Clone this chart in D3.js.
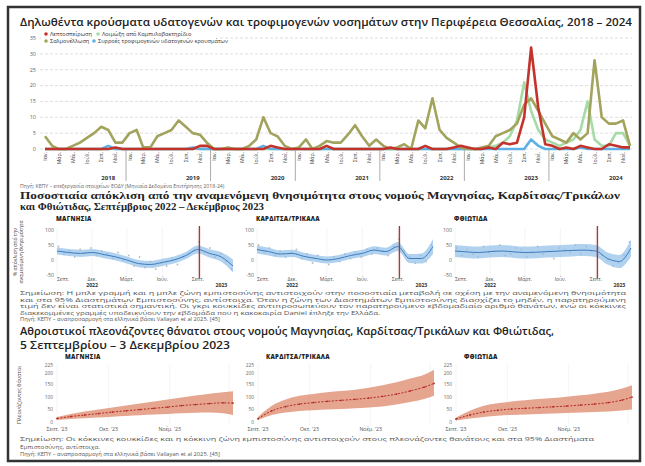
<!DOCTYPE html>
<html>
<head>
<meta charset="utf-8">
<script src="https://cdn.jsdelivr.net/npm/d3@7"></script>
<style>
  body { margin: 0; background: #fff; }
  svg text { font-family: "Open Sans", "Noto Sans", sans-serif; }
</style>
</head>
<body>
<div id="chart"></div>
<script>
// ---- data: monthly reported cases, Jan 2018 - Dec 2024 ----
const years = [2018, 2019, 2020, 2021, 2022, 2023, 2024];
const monthLabels = ["Ιαν.", "Μάρ.", "Μάι.", "Ιούλ.", "Σεπ.", "Νοέ."];

const salmonella = [
  4, 1, 0, 0, 1, 2, 3.5, 5, 7, 6, 2, 2,
  5, 6, 0.5, 0.5, 4, 5, 6, 9, 7, 5, 4.5, 2,
  0, 0, 0.5, 0, 0, 1, 3, 10, 5, 4, 1, 0,
  0.5, 3, 0, 1, 2.5, 2, 2, 4.5, 7.5, 4, 1, 3,
  1, 0, 0.5, 1.5, 0, 9, 6.5, 16, 6, 3.5, 2, 0.5,
  0, 0, 0.5, 1, 4, 5, 6, 8, 14, 16, 12, 8,
  4, 3, 2, 5, 3, 5, 28, 10, 8, 8, 9, 1
];
const campylobacter = [
  0, 0, 0, 0, 0, 0, 0, 0, 0, 0, 0, 0,
  0, 0, 0, 0, 0, 0, 0, 0, 0, 0, 0, 0,
  0, 0, 0, 0, 0, 0, 0, 0, 0, 0, 0, 0,
  0, 0, 0, 0, 0, 0, 0, 0, 0, 0, 0, 0,
  0, 0, 0, 0, 0, 0, 0, 0, 0, 0, 0, 0,
  0, 0, 0, 0.5, 1, 2, 4, 9, 21, 12, 6, 3,
  2, 1, 2, 3, 6, 15, 3, 1, 1, 5, 5, 1
];
const leptospirosis = [
  0, 0, 0, 0, 0, 0, 0, 0, 0, 0, 0.5, 0,
  0, 0, 0, 0, 0, 0, 0, 0, 0, 0, 1, 1,
  0, 0, 0, 0, 0, 0, 0, 0, 1, 0.5, 0, 0,
  0, 0, 0, 0, 1, 0, 0, 0, 0, 0, 0, 0,
  0, 0.5, 0, 0, 0, 0, 1, 0, 0, 0, 0.5, 1,
  0.5, 0, 0, 0.5, 0, 2, 1.5, 2, 10, 32, 13, 1.5,
  1, 0, 0.5, 0, 1, 0.5, 0, 0, 1.5, 1, 0.5, 0.5
];
const outbreaks = [
  0, 0, 0, 0, 0, 0, 0, 0, 0, 1, 0, 0,
  0, 0, 0, 0, 0, 0, 0, 0, 0, 0.5, 0, 0,
  0, 0, 0, 0, 0, 0, 0, 1, 0, 0, 0, 0,
  0, 0, 0, 0, 0, 0, 0, 0, 0, 0, 0, 0,
  0, 0, 0, 0, 0, 0, 0, 0, 0, 0, 0, 0,
  0, 0, 0, 0, 0, 0, 0, 0, 0, 3, 1, 0,
  0, 0, 0, 0, 0.5, 0, 0, 0, 0, 0, 0, 0
];

// ---- data: % deviation from expected mortality, monthly, Sep 2022 - Dec 2023 ----
const regions = ["ΜΑΓΝΗΣΙΑ", "ΚΑΡΔΙΤΣΑ/ΤΡΙΚΑΛΑ", "ΦΘΙΩΤΙΔΑ"];
const devMid = [
  [30, 25, 22, 25, 18, 10, 0, -12, -15, -8, 0, 15, 35, 22, 10, -20],
  [35, 28, 20, 22, 12, 5, 0, 5, 15, 22, 33, 28, 45, 5, 5, 45],
  [30, 27, 25, 28, 30, 27, 25, 26, 28, 30, 32, 33, 30, 5, -5, 40]
];
const devLow = [
  [18, 13, 10, 13, 6, -2, -12, -24, -27, -20, -12, 3, 22, 8, -6, -42],
  [22, 15, 8, 10, 0, -7, -12, -7, 3, 10, 20, 15, 30, -10, -12, 20],
  [10, 7, 5, 8, 10, 7, 5, 6, 8, 10, 12, 13, 10, -15, -27, 12]
];
const devHigh = [
  [42, 37, 34, 37, 30, 22, 12, 0, -3, 4, 12, 27, 48, 36, 26, 2],
  [48, 41, 32, 34, 24, 17, 12, 17, 27, 34, 46, 41, 60, 20, 22, 70],
  [50, 47, 45, 48, 50, 47, 45, 46, 48, 50, 52, 53, 50, 25, 17, 68]
];
// observed weekly deaths as % deviation, every second week from 5 Sep 2022
const devDots = [
  [45, 20, 30, 10, 35, 25, 40, 15, 30, 20, 5, 25, 0, 15, -20, 10, -25, -5, -30, -10, -20, 5, -15, 10, 20, 30, 60, 25, 40, 10, 20, -5, -30],
  [50, 25, 40, 15, 30, 10, 25, 35, 5, 20, -10, 15, 0, -15, 10, -5, 20, 5, 25, 10, 35, 20, 40, 30, 15, 45, 70, 30, 10, -10, 15, -5, 50],
  [40, 15, 35, 20, 10, 45, 25, 30, 50, 15, 20, 40, 35, 10, 25, 45, 20, 30, 5, 40, 35, 25, 50, 20, 45, 30, 40, 15, 0, -20, -10, 15, 60]
];

// ---- data: cumulative excess deaths, weekly from 5 Sep 2023 ----
const excMid = [
  [14, 22, 28, 34, 40, 45, 50, 55, 60, 66, 70, 74, 77, 76],
  [13, 45, 62, 72, 78, 83, 87, 91, 96, 103, 112, 125, 140, 155],
  [12, 28, 40, 47, 52, 55, 58, 61, 64, 68, 72, 78, 88, 100]
];
const excLow = [
  [8, 12, 15, 18, 21, 24, 27, 30, 32, 35, 37, 38, 35, 28],
  [8, 28, 38, 44, 47, 50, 52, 55, 58, 62, 70, 80, 92, 105],
  [6, 14, 20, 25, 28, 30, 32, 34, 36, 38, 40, 42, 46, 50]
];
const excHigh = [
  [20, 32, 42, 50, 58, 66, 74, 82, 90, 98, 106, 114, 120, 124],
  [20, 65, 90, 105, 113, 120, 125, 130, 138, 148, 160, 175, 190, 210],
  [18, 45, 65, 75, 82, 87, 92, 96, 101, 107, 114, 122, 135, 148]
];

const W = 645, H = 466;
const svg = d3.select("#chart").append("svg")
  .attr("width", W).attr("height", H);

// outer frame
svg.append("rect")
  .attr("x", 8).attr("y", 7).attr("width", 632).attr("height", 454)
  .attr("fill", "none").attr("stroke", "#333").attr("stroke-width", 2.5);

/* ================= top chart ================= */
svg.append("text")
  .attr("x", 20).attr("y", 26)
  .attr("font-size", 11).attr("font-weight", 600).attr("fill", "#222")
  .attr("textLength", 612).attr("lengthAdjust", "spacingAndGlyphs")
  .text("Δηλωθέντα κρούσματα υδατογενών και τροφιμογενών νοσημάτων στην Περιφέρεια Θεσσαλίας, 2018 – 2024");

const monthDates = d3.timeMonth.range(new Date(2018, 0, 1), new Date(2025, 0, 1));
const xTop = d3.scaleTime()
  .domain([new Date(2018, 0, 1), new Date(2024, 11, 1)])
  .range([45, 630]);
const yTop = d3.scaleLinear().domain([0, 35]).range([149, 38]);

const topG = svg.append("g");
const yTicks = yTop.ticks(7);
topG.selectAll("line.grid").data(yTicks).join("line")
  .attr("class", "grid")
  .attr("x1", 40).attr("x2", 632)
  .attr("y1", d => yTop(d)).attr("y2", d => yTop(d))
  .attr("stroke", "#c8c8c8").attr("stroke-width", 0.6)
  .attr("stroke-dasharray", "3,2");
topG.selectAll("text.ytick").data(yTicks).join("text")
  .attr("class", "ytick")
  .attr("x", 36).attr("y", d => yTop(d)).attr("dy", "0.35em")
  .attr("text-anchor", "end").attr("font-size", 5.5).attr("fill", "#666")
  .text(d => d);

// month labels
const monthTicks = [];
years.forEach(yr => [0, 2, 4, 6, 8, 10].forEach((m, i) =>
  monthTicks.push({date: new Date(yr, m, 1), label: monthLabels[i]})));
topG.selectAll("text.mtick").data(monthTicks).join("text")
  .attr("class", "mtick")
  .attr("transform", d => "translate(" + (xTop(d.date) + 2) + ",152) rotate(-90)")
  .attr("text-anchor", "end").attr("font-size", 5.2).attr("fill", "#444")
  .text(d => d.label);

// year separators and labels
topG.selectAll("line.ysep").data(years.slice(1)).join("line")
  .attr("class", "ysep")
  .attr("x1", d => xTop(new Date(d, 0, 1)) - 3.5).attr("x2", d => xTop(new Date(d, 0, 1)) - 3.5)
  .attr("y1", 150).attr("y2", 181)
  .attr("stroke", "#888").attr("stroke-width", 0.7);
topG.selectAll("text.year").data(years).join("text")
  .attr("class", "year")
  .attr("x", d => xTop(new Date(d, 9, 1))).attr("y", 180)
  .attr("text-anchor", "middle").attr("font-size", 6).attr("font-weight", 700).attr("fill", "#333")
  .text(d => d);

const series = [
  {name: "Λοιμώξη από Καμπυλοβακτηρίδιο", values: campylobacter, color: "#a6dba8"},
  {name: "Συρροές τροφιμογενών υδατογενών κρουσμάτων", values: outbreaks, color: "#5fb0e4"},
  {name: "Σαλμονέλλωση", values: salmonella, color: "#a2a35c"},
  {name: "Λεπτοσπείρωση", values: leptospirosis, color: "#c3332c"}
];
const lineTop = d3.line()
  .x((d, i) => xTop(monthDates[i]))
  .y(d => yTop(d));
topG.selectAll("path.series").data(series).join("path")
  .attr("class", "series")
  .attr("d", d => lineTop(d.values))
  .attr("fill", "none").attr("stroke", d => d.color)
  .attr("stroke-width", 2.6).attr("stroke-linejoin", "round");

// legend (white box hides the grid behind it)
topG.append("rect").attr("x", 41).attr("y", 30).attr("width", 178).attr("height", 15)
  .attr("fill", "#fff");
const legendItems = [
  {s: series[3], x: 46, y: 34}, {s: series[0], x: 98, y: 34},
  {s: series[2], x: 46, y: 41}, {s: series[1], x: 94, y: 41}
];
const leg = topG.selectAll("g.leg").data(legendItems).join("g")
  .attr("class", "leg")
  .attr("transform", d => "translate(" + d.x + "," + d.y + ")");
leg.append("circle").attr("r", 1.8).attr("fill", d => d.s.color);
leg.append("text").attr("x", 4).attr("dy", "0.35em")
  .attr("font-size", 5.6).attr("fill", "#333")
  .text(d => d.s.name);

svg.append("text")
  .attr("x", 20).attr("y", 188).attr("font-size", 5.2).attr("fill", "#666")
  .text("Πηγή: ΚΕΠΥ – επεξεργασία στοιχείων ΕΟΔΥ (Μηνιαία Δεδομένα Επιτήρησης 2018-24)");

/* ================= middle: % deviation ================= */
const midTitle = svg.append("text")
  .style("font-family", "'Liberation Serif', 'DejaVu Serif', serif")
  .attr("font-size", 10.5).attr("font-weight", 700).attr("fill", "#222");
midTitle.append("tspan").attr("x", 20).attr("y", 199)
  .attr("textLength", 600).attr("lengthAdjust", "spacingAndGlyphs")
  .text("Ποσοστιαία απόκλιση από την αναμενόμενη θνησιμότητα στους νομούς Μαγνησίας, Καρδίτσας/Τρικάλων");
midTitle.append("tspan").attr("x", 20).attr("y", 210)
  .attr("textLength", 244).attr("lengthAdjust", "spacingAndGlyphs")
  .text("και Φθιώτιδας, Σεπτέμβριος 2022 – Δεκέμβριος 2023");

const panelX = [57, 257, 455], panelW = 176;
const devMonths = d3.timeMonth.range(new Date(2022, 8, 1), new Date(2024, 0, 1));
const dotDates = devDots[0].map((d, i) => d3.timeDay.offset(new Date(2022, 8, 5), 14 * i));
const yMid = d3.scaleLinear().domain([-50, 100]).range([275, 230]);
const daniel = new Date(2023, 8, 5);

regions.forEach((name, p) => {
  const g = svg.append("g");
  const x = d3.scaleTime()
    .domain([new Date(2022, 8, 1), new Date(2023, 11, 1)])
    .range([panelX[p], panelX[p] + panelW]);

  g.append("text").attr("x", panelX[p] - 1).attr("y", 221)
    .attr("font-size", 6).attr("font-weight", 800).attr("fill", "#222")
    .attr("letter-spacing", 0.3).text(name);

  const tickDates = [new Date(2022, 8, 1), new Date(2022, 11, 1), new Date(2023, 2, 1), new Date(2023, 5, 1), new Date(2023, 8, 1)];
  const tickNames = ["Σεπτ.", "Δεκ.", "Μάρτ.", "Ιούν.", "Σεπτ."];
  g.selectAll("line.vg").data(tickDates).join("line")
    .attr("class", "vg")
    .attr("x1", d => x(d)).attr("x2", d => x(d)).attr("y1", 228).attr("y2", 277)
    .attr("stroke", "#eee").attr("stroke-width", 0.6);
  g.selectAll("text.yt").data([-50, 0, 50, 100]).join("text")
    .attr("class", "yt")
    .attr("x", panelX[p] - 3).attr("y", d => yMid(d)).attr("dy", "0.35em")
    .attr("text-anchor", "end").attr("font-size", 5.2).attr("fill", "#666")
    .text(d => d);
  g.selectAll("text.xt").data(tickDates).join("text")
    .attr("class", "xt")
    .attr("x", (d, i) => x(d) + (i === 0 ? 6 : 0)).attr("y", 280.5)
    .attr("text-anchor", "middle").attr("font-size", 5).attr("fill", "#555")
    .text((d, i) => tickNames[i]);
  g.append("text").attr("x", x(new Date(2022, 11, 1))).attr("y", 287)
    .attr("text-anchor", "middle").attr("font-size", 5.2).attr("font-weight", 700).attr("fill", "#333")
    .text("2022");
  g.append("text").attr("x", x(new Date(2023, 10, 1))).attr("y", 287)
    .attr("text-anchor", "middle").attr("font-size", 5.2).attr("font-weight", 700).attr("fill", "#333")
    .text("2023");

  g.selectAll("circle.dot").data(devDots[p]).join("circle")
    .attr("class", "dot")
    .attr("cx", (d, i) => x(dotDates[i])).attr("cy", d => yMid(d))
    .attr("r", 0.9).attr("fill", "#bbb");

  const area = d3.area().curve(d3.curveMonotoneX)
    .x((d, i) => x(devMonths[i]))
    .y0((d, i) => yMid(devLow[p][i]))
    .y1((d, i) => yMid(devHigh[p][i]));
  g.append("path").attr("d", area(devMid[p]))
    .attr("fill", "#8fbfe8").attr("fill-opacity", 0.7);
  const line = d3.line().curve(d3.curveMonotoneX)
    .x((d, i) => x(devMonths[i])).y(d => yMid(d));
  g.append("path").attr("d", line(devMid[p]))
    .attr("fill", "none").attr("stroke", "#3c7cc0").attr("stroke-width", 1);

  g.append("line")
    .attr("x1", x(daniel)).attr("x2", x(daniel)).attr("y1", 226).attr("y2", 278)
    .attr("stroke", "#a83a3a").attr("stroke-width", 1.4);
});

svg.append("text")
  .attr("transform", "translate(17,252) rotate(-90)")
  .attr("text-anchor", "middle").attr("font-size", 5).attr("fill", "#444")
  .selectAll("tspan").data(["% απόκλιση από την", "αναμενόμενη θνησιμότητα"]).join("tspan")
  .attr("x", 0).attr("dy", (d, i) => i ? 6 : 0).text(d => d);

const midNotes = [
  ["Σημείωση: Η μπλε γραμμή και η μπλε ζώνη εμπιστοσύνης αντιστοιχούν στην ποσοστιαία μεταβολή σε σχέση με την αναμενόμενη θνησιμότητα", 606],
  ["και στα 95% Διαστημάτων Εμπιστοσύνης, αντίστοιχα. Όταν η ζώνη των Διαστημάτων Εμπιστοσύνης διασχίζει το μηδέν, η παρατηρούμενη", 606],
  ["τιμή δεν είναι στατιστικά σημαντική. Οι γκρι κουκκίδες αντιπροσωπεύουν τον παρατηρούμενο εβδομαδιαίο αριθμό θανάτων, ενώ οι κόκκινες", 606],
  ["διακεκομμένες γραμμές υποδεικνύουν την εβδομάδα που η κακοκαιρία Daniel έπληξε την Ελλάδα.", 360],
  ["Πηγή: ΚΕΠΥ – αναπροσαρμογή στα ελληνικά βάσει Vallayan et al 2025. [45]", 200]
];
svg.selectAll("text.midnote").data(midNotes).join("text")
  .attr("class", "midnote")
  .attr("x", 20).attr("y", (d, i) => 295 + i * 6.6)
  .attr("font-size", 5.2).attr("fill", "#555")
  .attr("textLength", d => d[1]).attr("lengthAdjust", "spacingAndGlyphs")
  .text(d => d[0]);

/* ================= bottom: cumulative excess deaths ================= */
const botTitle = svg.append("text")
  .attr("font-size", 10).attr("font-weight", 600).attr("fill", "#222");
botTitle.append("tspan").attr("x", 20).attr("y", 335)
  .attr("textLength", 534).attr("lengthAdjust", "spacingAndGlyphs")
  .text("Αθροιστικοί πλεονάζοντες θάνατοι στους νομούς Μαγνησίας, Καρδίτσας/Τρικάλων και Φθιώτιδας,");
botTitle.append("tspan").attr("x", 20).attr("y", 348.5)
  .attr("textLength", 210).attr("lengthAdjust", "spacingAndGlyphs")
  .text("5 Σεπτεμβρίου – 3 Δεκεμβρίου 2023");

const weekDates = excMid[0].map((d, i) => i < 13 ? d3.timeDay.offset(new Date(2023, 8, 5), 7 * i) : new Date(2023, 11, 3));
const yBot = d3.scaleLinear().domain([0, 225]).range([422, 366]);
const botPanelX = [57, 258, 456], botW = 176;

regions.forEach((name, p) => {
  const g = svg.append("g");
  const x = d3.scaleTime()
    .domain([new Date(2023, 8, 5), new Date(2023, 11, 3)])
    .range([botPanelX[p], botPanelX[p] + botW]);

  g.append("text").attr("x", botPanelX[p] + 8).attr("y", 358.5)
    .attr("font-size", 6).attr("font-weight", 800).attr("fill", "#222")
    .attr("letter-spacing", 0.3).text(name);

  const tickDates = [new Date(2023, 8, 5), new Date(2023, 9, 1), new Date(2023, 10, 1)];
  const tickNames = ["Σεπτ. '23", "Οκτ. '23", "Νοέμ. '23"];
  g.selectAll("line.vg").data(tickDates.concat([new Date(2023, 11, 1)])).join("line")
    .attr("class", "vg")
    .attr("x1", d => x(d)).attr("x2", d => x(d)).attr("y1", 364).attr("y2", 425)
    .attr("stroke", "#eee").attr("stroke-width", 0.6);
  g.selectAll("text.yt").data([0, 50, 100, 150, 200, 225]).join("text")
    .attr("class", "yt")
    .attr("x", botPanelX[p] - 4)
    .attr("y", d => yBot(d) + (d === 225 ? -0.8 : d === 200 ? 0.8 : 0)).attr("dy", "0.35em")
    .attr("text-anchor", "end").attr("font-size", 4.8).attr("fill", "#666")
    .text(d => d);
  g.selectAll("text.xt").data(tickDates).join("text")
    .attr("class", "xt")
    .attr("x", d => x(d)).attr("y", 431)
    .attr("text-anchor", "middle").attr("font-size", 5.2).attr("fill", "#555")
    .text((d, i) => tickNames[i]);

  const area = d3.area().curve(d3.curveMonotoneX)
    .x((d, i) => x(weekDates[i]))
    .y0((d, i) => yBot(excLow[p][i]))
    .y1((d, i) => yBot(excHigh[p][i]));
  g.append("path").attr("d", area(excMid[p]))
    .attr("fill", "#de8f72").attr("fill-opacity", 0.8);
  const line = d3.line().curve(d3.curveMonotoneX)
    .x((d, i) => x(weekDates[i])).y(d => yBot(d));
  g.append("path").attr("d", line(excMid[p]))
    .attr("fill", "none").attr("stroke", "#b52a24").attr("stroke-width", 1)
    .attr("stroke-dasharray", "2,1.5");
  g.selectAll("circle.pt").data(excMid[p]).join("circle")
    .attr("class", "pt")
    .attr("cx", (d, i) => x(weekDates[i])).attr("cy", d => yBot(d))
    .attr("r", 0.9).attr("fill", "#b52a24");
});

svg.append("text")
  .attr("transform", "translate(21,395) rotate(-90)")
  .attr("text-anchor", "middle").attr("font-size", 5.5).attr("fill", "#444")
  .text("Πλεονάζοντες θάνατοι");

const botNotes = [
  ["Σημείωση: Οι κόκκινες κουκκίδες και η κόκκινη ζώνη εμπιστοσύνης αντιστοιχούν στους πλεονάζοντες θανάτους και στα 95% Διαστήματα", 574],
  ["Εμπιστοσύνης, αντίστοιχα.", 80],
  ["Πηγή: ΚΕΠΥ – αναπροσαρμογή στα ελληνικά βάσει Vallayan et al 2025. [45]", 200]
];
svg.selectAll("text.botnote").data(botNotes).join("text")
  .attr("class", "botnote")
  .attr("x", 20).attr("y", (d, i) => 441 + i * 7.5)
  .attr("font-size", 5.3).attr("fill", "#555")
  .attr("textLength", d => d[1]).attr("lengthAdjust", "spacingAndGlyphs")
  .text(d => d[0]);
</script>
</body>
</html>
